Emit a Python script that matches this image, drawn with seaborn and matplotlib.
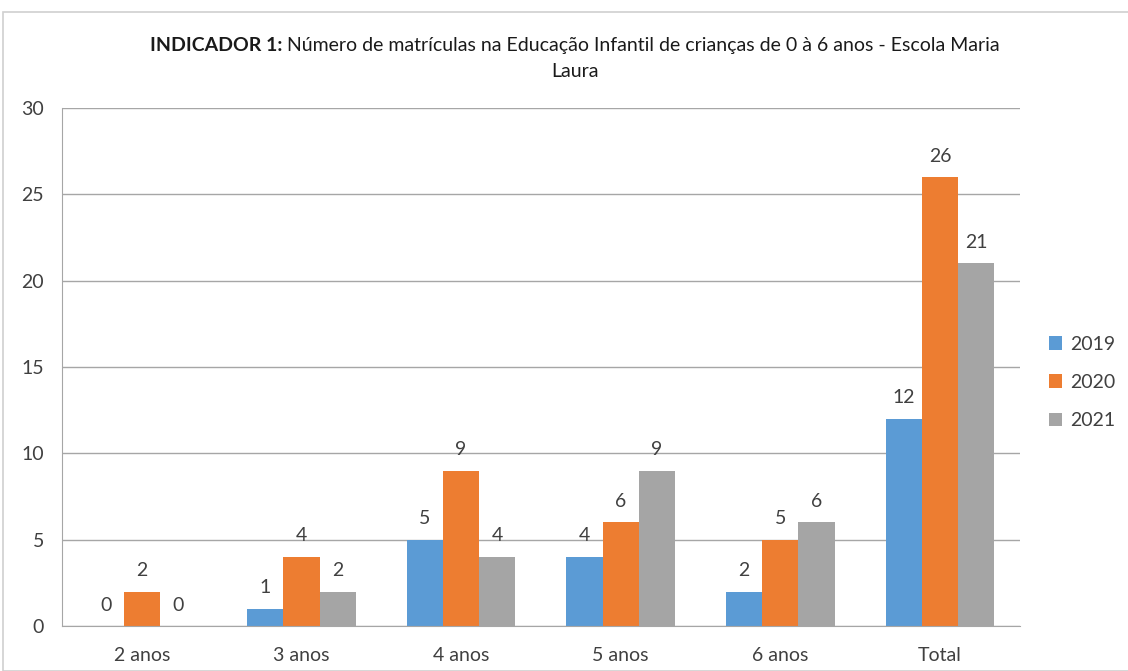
import pandas as pd
import seaborn as sns
import matplotlib
matplotlib.use('Agg')
from matplotlib import pyplot as plt
from matplotlib.patches import Rectangle

# data
categories = ['2 anos', '3 anos', '4 anos', '5 anos', '6 anos', 'Total']
years = ['2019', '2020', '2021']
vals_2019 = [0, 1, 5, 4, 2, 12]
vals_2020 = [2, 4, 9, 6, 5, 26]
vals_2021 = [0, 2, 4, 9, 6, 21]
colors = ['#5B9BD5', '#ED7D31', '#A5A5A5']

df = pd.DataFrame({
    'Categoria': categories * 3,
    'Ano': [years[0]] * 6 + [years[1]] * 6 + [years[2]] * 6,
    'Valor': vals_2019 + vals_2020 + vals_2021,
})

sns.set_style('white')
FONT = ['Lato', 'DejaVu Sans']
plt.rcParams['font.family'] = FONT

fig = plt.figure(figsize=(11.28, 6.71), dpi=100)
ax = fig.add_axes([0.055, 0.067, 0.849, 0.772])

sns.barplot(data=df, x='Categoria', y='Valor', hue='Ano', palette=colors,
            width=0.68, saturation=1, linewidth=0, ax=ax, legend=True)

# data labels
for cont in ax.containers:
    ax.bar_label(cont, padding=9, fontsize=14, color='#404040')

ax.set_ylim(0, 30)
ax.set_yticks(range(0, 31, 5))
ax.set_xlim(-0.5, 5.5)
ax.set_xlabel('')
ax.set_ylabel('')
ax.grid(axis='y', color='#A6A6A6', linewidth=1)
ax.set_axisbelow(True)
for s in ['top', 'right']:
    ax.spines[s].set_visible(False)
ax.spines['left'].set_color('#A6A6A6')
ax.spines['bottom'].set_color('#A6A6A6')
ax.tick_params(axis='both', length=0, labelsize=14, labelcolor='#404040')
ax.tick_params(axis='y', pad=13)
ax.tick_params(axis='x', pad=15)

leg = ax.legend(loc='center left', bbox_to_anchor=(1.012, 0.47), frameon=False,
                fontsize=14, handlelength=0.7, handleheight=0.7,
                handletextpad=0.4, labelspacing=1.1)
for t in leg.get_texts():
    t.set_color('#404040')

# title with bold prefix
fig.canvas.draw()
r = fig.canvas.get_renderer()
bold_part = 'INDICADOR 1: '
rest1 = 'Número de matrículas na Educação Infantil de crianças de 0 à 6 anos - Escola Maria'
tb = fig.text(0, 0, bold_part, fontsize=14, fontweight='bold', color='#1a1a1a')
tn = fig.text(0, 0, rest1, fontsize=14, color='#1a1a1a')
wb = tb.get_window_extent(r).width
wn = tn.get_window_extent(r).width
x0 = (575 - (wb + wn) / 2) / 1128
y1 = 1 - 51 / 671
tb.set_position((x0, y1))
tn.set_position((x0 + wb / 1128, y1))
fig.text(575 / 1128, 1 - 77 / 671, 'Laura', fontsize=14, color='#1a1a1a', ha='center')

# outer chart border
fig.patches.append(Rectangle((3 / 1128, 0.0), 1.2, 1 - 12 / 671, transform=fig.transFigure,
                             fill=False, edgecolor='#D0D0D0', linewidth=1.2))

fig.savefig('out.png', dpi=100)
